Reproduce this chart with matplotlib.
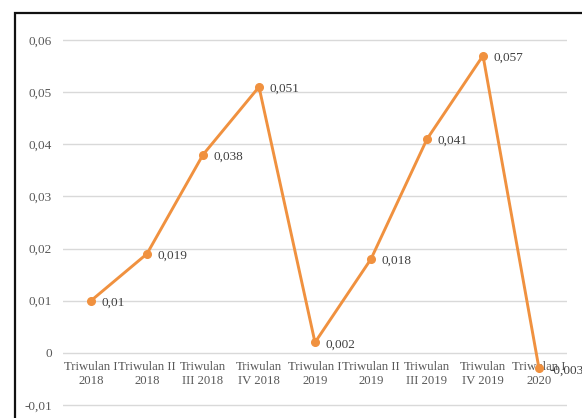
import matplotlib.pyplot as plt
from matplotlib.patches import Rectangle
from matplotlib.ticker import FuncFormatter

# data
categories = ["Triwulan I\n2018", "Triwulan II\n2018", "Triwulan\nIII 2018", "Triwulan\nIV 2018",
              "Triwulan I\n2019", "Triwulan II\n2019", "Triwulan\nIII 2019", "Triwulan\nIV 2019",
              "Triwulan I\n2020"]
values = [0.01, 0.019, 0.038, 0.051, 0.002, 0.018, 0.041, 0.057, -0.003]
yticks = [-0.01, 0, 0.01, 0.02, 0.03, 0.04, 0.05, 0.06]

plt.rcParams['font.family'] = ['Liberation Serif', 'DejaVu Serif']

W, H = 582, 418
fig = plt.figure(figsize=(W / 100, H / 100), dpi=100)

# axes position in pixels
left, right = 63, 567
top, bottom = 37.4, 407.6
ax = fig.add_axes([left / W, 1 - bottom / H, (right - left) / W, (bottom - top) / H])

def fmt(v, pos=None):
    if abs(v) < 1e-9:
        return "0"
    return ("%.2f" % v).replace(".", ",")

def fmt_lbl(v):
    s = ("%.3f" % v).rstrip("0")
    if s.endswith("."):
        s = s[:-1]
    return s.replace(".", ",")

x = list(range(len(values)))
ax.plot(x, values, color='#F0913F', lw=2.1, marker='o', ms=5.5, zorder=3, clip_on=False)

for xi, v in zip(x, values):
    ax.annotate(fmt_lbl(v), (xi, v), xytext=(7.5, -1.5), textcoords='offset points',
                ha='left', va='center', fontsize=9.5, color='#404040', zorder=4)

ax.set_xlim(-0.5, len(values) - 0.5)
ax.set_ylim(-0.0105, 0.0605)
ax.set_yticks(yticks)
ax.yaxis.set_major_formatter(FuncFormatter(fmt))
ax.set_xticks(x)
ax.set_xticklabels(categories, linespacing=1.45)

ax.grid(axis='y', color='#d9d9d9', lw=1.0)
ax.set_axisbelow(True)
for s in ['top', 'right', 'left']:
    ax.spines[s].set_visible(False)
ax.spines['bottom'].set_position(('data', 0))
ax.spines['bottom'].set_color('none')

ax.tick_params(axis='y', length=0, pad=8, labelsize=9.5, labelcolor='#595959')
ax.tick_params(axis='x', length=0, pad=6, labelsize=9.2, labelcolor='#595959')

# outer frame of the original picture
fig.patches.append(Rectangle((15 / W, -0.1), 1.2, 1 - 13 / H + 0.1, transform=fig.transFigure,
                             fill=False, edgecolor='#111111', lw=1.6))

fig.savefig('out.png', dpi=100)
